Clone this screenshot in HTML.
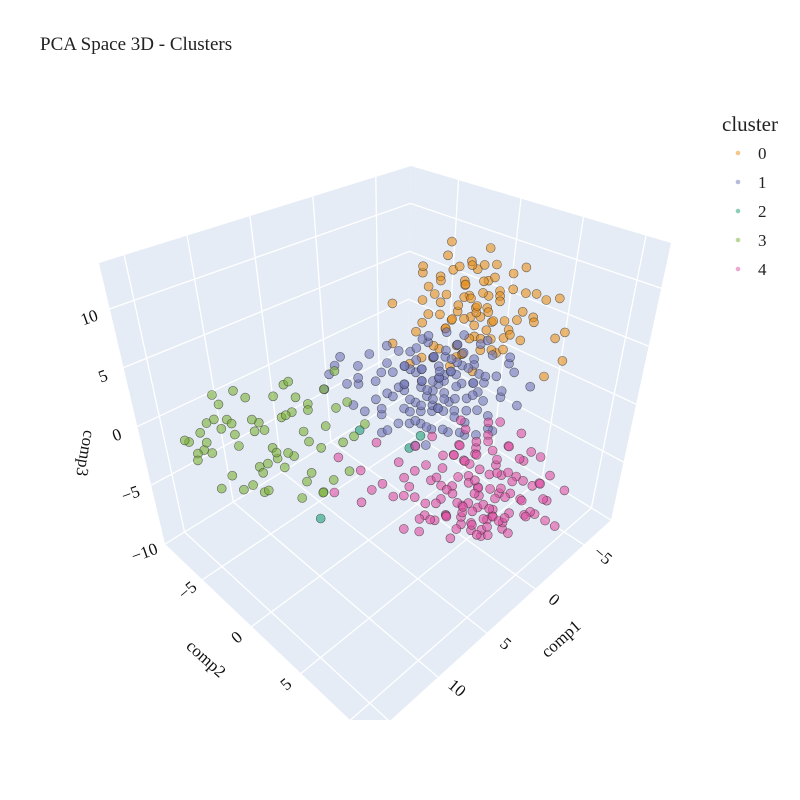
<!DOCTYPE html>
<html><head><meta charset="utf-8"><title>PCA Space 3D - Clusters</title>
<style>
html,body{margin:0;padding:0;background:#fff;}
svg{display:block;font-family:"Liberation Serif","DejaVu Serif",serif;}
</style></head>
<body>
<svg id="chart" width="800" height="800" viewBox="0 0 800 800" xmlns="http://www.w3.org/2000/svg">
<defs><clipPath id="sceneclip"><rect x="0" y="0" width="800" height="720"/></clipPath></defs>
<text x="40" y="50" font-size="19" fill="#222">PCA Space 3D - Clusters</text>
<g id="scene" clip-path="url(#sceneclip)"></g>
<g id="labels"></g>
<g id="legend">
<text x="722" y="131" font-size="21" fill="#222">cluster</text>
</g>
</svg>
<script>
// ---- data ----
const clusterNames = ["0","1","2","3","4"];
const clusterColors = ["#E8901A","#6F75B8","#1B9E77","#7AB036","#DE4FA4"];
const comp1Range = [-7.8, 17];
const comp2Range = [-8.8, 12];
const comp3Range = [-10, 13.9];
const comp1Ticks = [-5, 0, 5, 10, 15];
const comp2Ticks = [-5, 0, 5, 10];
const comp3Ticks = [-10, -5, 0, 5, 10];
const comp1TickLabels = ["−5","0","5","10"];
const comp2TickLabels = ["−5","0","5"];
const comp3TickLabels = ["−10","−5","0","5","10"];

const cluster0 = [[-0.5,3.6,8],[-1.5,0.8,13],[-2,2.5,11],[0,1.5,10.5],[-3,3.5,9],[1,2.5,9.5],[-1,4.5,7],[0.5,3.5,6],[-2.5,5,10],[-1,2,11.5],[2,1.5,7],[-3.5,2,12],[0,4.5,9],[-2,6,8],[1,4,5.5],[-1.5,3,6.5],[-4,4.5,11],[0.5,0.5,11],[-0.5,5.5,6],[2.5,0,9],[-2,4,12],[1.5,2.5,5],[-3,6.5,7.5],[-1,2.5,9],[0,3.5,11],[-2.5,1.5,8],[1,5,7.5],[-1.5,5,5],[-4.5,7,9],[3,0.5,6],[-0.5,1.5,12.5],[-2,3,7],[0.5,5,10],[-3,4.5,6],[1.5,2,8.5],[-1,4,10],[-5,5.5,8],[0,2.5,7.5],[-2,6.5,10.5],[2,3,6.5],[-1,0.5,10],[-3.5,4,10.5],[0.5,2,8],[-1.5,6,7],[1,1,12],[-2.5,3.5,6.5],[-6,6.5,5],[-4,7.5,6],[2.5,1.5,4.5],[0,4.5,4],[-1,3,12],[-3,2.5,9.5],[1,3.5,8.5],[-2,4.5,9],[-5,7.5,3.5],[-4,7,2.5],
[0,3,9],[-1,3.5,8.5],[0.5,2.5,7],[-1.5,4,9.5],[-0.5,4,6.5],[1,3,7.5],[-2,5,7.5],[0,2,9.5],[-1,5,8],[0.5,4,8.5],[-2.5,4,9],[1.5,3,6],[-1.5,2,10],[0,5,7],[-3,5.5,8],[1,2,10],[-0.5,3,10.5],[-2,3.5,8],[0.5,5.5,6.5],[-1,1.5,11],[2,2,8],[-3.5,6,9.5],[0,3.5,5],[-1,6,6],[1,4.5,6],[-2,2,11.5],[-0.5,2.5,8],[-4,5.5,7],[1.5,1.5,9.5],[-1.5,5.5,6.5],[0,4,10],[-2.5,6,6],[2.5,2.5,5.5],[-1,4,11],[-3,3,10],[0.5,1,10],[-0.5,5,9],[-2,4,5.5],[1,3.5,4.5],[-1.5,3.5,12]];
const cluster1 = [[3.3,4.3,4],[2,5,5],[4,3.5,3],[1.5,6,6],[3,4,6.5],[5,3,4.5],[1,6.5,3],[2.5,5.5,2],[6,2,5],[3.5,4.5,7],[4,4,1.5],[2,5,7.5],[4.5,3,6],[3,5,4],[0.5,7,5],[2,6,3.5],[7,1,3],[2.5,5,5.5],[3.5,3.5,8],[4.5,4,2],[5.5,2.5,6.5],[1.5,6,4.5],[3,4.5,2.5],[5,3.5,5],[1,7,7],[8,-0.5,4],[7.5,0,6],[2,5.5,8.5],[4,3,5.5],[3.5,5,3],[0,8,5.5],[1,7,2],[3,4,0.5],[5,2,3.5],[2.5,4.5,6.5],[3,5.5,6],[5.5,2,2],[1.5,5.5,1],[2,5,3],[6,1.5,7],[4,4.5,4.5],[0.5,7.5,3.5],[4,3.5,7.5],[2,6,6],[3,5,1],[4,4,6],[3.5,4,3.5],[8,0,5.5],[0,8.5,3],[2,6.5,4],[5,3,7.5],[2.5,4,4],[4.5,2.5,1],[6.5,1,4.5],[3,4.5,5],[2,5,2],[6,2.5,3],[3.5,3,5],[4,4.5,0],[1,6,5],[0.5,8,7],[4.5,3.5,3.5],[3,5,7.5],[7,0.5,4.5],[2,6,0.5],[4.5,3,4],[5,3.5,6.5],[7,1.5,5.5],[3,4,2],[4,3.5,6.5],[6.5,1,6],[-0.5,9,4.5],
[2.5,4.5,5],[3,4,4.5],[3.5,5,5.5],[2,4,4],[4,5,4],[3,3,3.5],[2.5,5.5,6.5],[1.5,5,5.5],[3.5,4.5,3],[4,4,5],[2,6.5,5],[3,5.5,7],[1,5.5,6],[5,4,3],[4.5,4.5,5.5],[2,4.5,2.5],[3.5,5.5,4],[1,6,3.5],[5,2.5,5.5],[2.5,3.5,6],[4,2.5,4],[3,6,5],[1.5,7,5.5],[0.5,6,4],[3,3.5,7.5],[4.5,3,2.5],[2,3.5,5],[5.5,3,4],[3,5,2.5],[1,8,4.5],[2.5,6.5,3],[4,5.5,6.5],[6,2,3.5],[3.5,2.5,6.5],[2,5.5,4.5],[4,3,1],[1.5,4.5,7],[3,6.5,1.5],[5,1.5,5],[2.5,5,0.5],[0,7.5,6],[6.5,1.5,2.5],[3.5,4,8.5],[1,6.5,8],[4.5,5,2],[2,7,1],[5.5,2,0.5],[3,3,5],[0.5,5.5,7],[7,0,6.5],[2.5,6,7.5],[4,4,3],[1.5,6.5,2.5],[3.5,3.5,2],[5,4.5,0.5],[2,8,2],[6,3,1.5],[4.5,1.5,7],[1,7.5,1],[3,5,9]];
const cluster2 = [[7,1.5,1.2],[4,4,0.5],[4.5,3.5,-0.5],[10,0.5,-5]];
const cluster3 = [[12.3,-1.7,2],[15,-6.2,-0.5],[14.5,-5.5,0.5],[15.5,-5,-1],[14,-6,-1.5],[13.5,-4.5,1],[15,-4,0],[14,-3.5,-2],[13,-5,2.5],[12,-3,1],[13,-2,3],[11.5,-1,-1],[12.5,-0.5,0.5],[11,-2,4],[10.5,0,2],[11,0.5,-1.5],[10,1,1],[9.5,-0.5,3.5],[12,1,-2],[13.5,-1,-2],[11.5,-3.5,-2.5],[14,-2.5,-2.5],[9,1.5,4],[10,2,-1],[8.5,2.5,2],[9,0.5,5],[11,2,-1.5],[12.5,-4,4],[10.5,-1.5,5],[15.5,-3,-2],[13,-6.5,0],[9.5,3,0],[8,3,3],[11,-0.5,6],[14,0,-1],[12,-5,-0.5],[10,-2.5,1.5],[13,0,1.5],[8.5,1,6.5],[11.5,1.5,2.5],
[14.5,-5,0],[13,-4,1.5],[12,-2.5,2],[11,-1,3],[10,0,3.5],[13.5,-3,0.5],[15,-5.5,-1],[12.5,-1.5,-0.5],[11.5,0,0.5],[9.5,1,2.5],[14,-4.5,2],[12,-3.5,3.5],[10.5,-0.5,4.5],[13,-1.5,-1],[15.5,-6,0],[11,1,-0.5],[9,2,1.5],[12.5,-5,1],[10,-1.5,2.5],[14,-1.5,-1.5],[8.5,2,4.5],[13,-5.5,3],[11.5,-2,0],[12,0,1],[10.5,1.5,-2]];
const cluster4 = [[3.5,8,0],[2,9.5,-1],[4.5,7,-2],[1,11,1],[3,9,-3],[5,6.5,-1],[0.5,11,-2],[2,10.5,-3.5],[6,5,-2],[3,8,1.5],[4,9,-4],[2.5,8.5,2],[4,7,0.5],[5,7.5,-3.5],[0,12,-1],[2,10,-4.5],[7,4.5,-2.5],[2.5,7.5,0],[3.5,8.5,-5],[3,10,-2],[6,6,-4],[1.5,9,-3],[3,9.5,-1.5],[5.5,6,0],[1.5,10.5,0.5],[8,2.5,-1],[8.5,3,-3],[1,9,0.5],[4,8,-3],[4,9,-0.5],[1,12.5,-2],[1,11,-4],[3,9,-5],[5,8,-1.5],[2.5,8,-2.5],[3,10,0],[5,6,-1.5],[1.5,8.5,-1],[2.5,9,-4.5],[5.5,6,-4],[6,6.5,-2.5],[0,12,-3],[4,7.5,1.5],[2,9,-4],[3,10.5,-3.5],[4.5,9,-2],[4,7,-2],[9,1.5,0],[0.5,11.5,-4],[2,10,-5],[5,7,1],[2.5,9,1],[4.5,6,-5],[7,5,0.5],[3,7.5,-1.5],[2,10.5,-1],[6,6,-5],[3.5,8.5,-3.5],[4,9.5,-4.5],[1,10.5,-3],[0.5,12.5,-4],[4.5,8,-2.5],[3,9,-5.5],[10,2,-2],[2,9,-4.5],[4.5,6.5,-3],[5,8,-5],[7,5.5,-4.5],[3,7,-0.5],[4,8,0.5],[-0.5,13,-2],[0,13,-4.5],[1.5,12.5,-0.5],
[3,8,1],[2,9,0],[4,7.5,-1],[3.5,9,-2],[2.5,10,-1.5],[4.5,8.5,-3],[1.5,10,-2.5],[3,8.5,-3.5],[5,7,0],[2,8,2.5],[3.5,7,3],[4,9,1.5],[1,10,2],[5.5,7,-2.5],[2.5,9.5,-4],[3,11,-3],[6.5,5,-1],[1.5,9.5,1],[4,8,-4.5],[2,11.5,-2],[3,7,2],[5,8.5,-4],[2,9,3],[6,5.5,1.5],[0.5,10,-0.5],[4.5,9.5,-1],[3,9.5,-4.5],[1,11.5,-3.5],[5,6,2],[4,10,-3],[2.5,8,-1],[3.5,10,-2.5],[7.5,4,-1.5],[6,7,-3.5],[1.5,8,-2],[0,11,0],[3,6.5,0.5],[4.5,7,-4],[2,10,-2.5],[5.5,8,-3],[3.5,8,-1.5],[2.5,11,-4.5],[6,4.5,-3],[8,3.5,-2],[1,12,-1],[4,6,-2.5],[3,9,2],[5,9,-2],[2,7.5,-3],[0.5,9.5,-2],[4.5,7.5,1],[6.5,6,-2],[1.5,11,-1],[3.5,7.5,-4.5],[2,12,-3],[7,3,1],[5.5,5,-1],[4,10.5,-4],[3,8,-5],[2.5,10.5,0]];
const clusters = [cluster0, cluster1, cluster2, cluster3, cluster4];

// ---- projection (box corners on screen) ----
const C = {
  b0:[407,395], l0:[165,544], r0:[611,520], f0:[370,739],
  b1:[411,166], l1:[99,263],  r1:[671,243], f1:[364,386]
};
function lerp(a,b,t){return [a[0]+(b[0]-a[0])*t, a[1]+(b[1]-a[1])*t];}
function projUVW(u,v,w){
  const fl = lerp(lerp(C.b0,C.l0,u), lerp(C.r0,C.f0,u), v);
  const tp = lerp(lerp(C.b1,C.l1,u), lerp(C.r1,C.f1,u), v);
  return lerp(fl,tp,w);
}
function uOf(c1){return (c1-comp1Range[0])/(comp1Range[1]-comp1Range[0]);}
function vOf(c2){return (c2-comp2Range[0])/(comp2Range[1]-comp2Range[0]);}
function wOf(c3){return (c3-comp3Range[0])/(comp3Range[1]-comp3Range[0]);}
function proj(c1,c2,c3){return projUVW(uOf(c1),vOf(c2),wOf(c3));}

const NS="http://www.w3.org/2000/svg";
const scene=document.getElementById('scene');
const labels=document.getElementById('labels');
function poly(pts,name){
  const p=document.createElementNS(NS,'polygon');
  p.setAttribute('points',pts.map(q=>q.join(',')).join(' '));
  p.setAttribute('fill','#e5ecf6');
  
  
  scene.appendChild(p);
}
function line(a,b,name){
  const l=document.createElementNS(NS,'line');
  l.setAttribute('x1',a[0]);l.setAttribute('y1',a[1]);l.setAttribute('x2',b[0]);l.setAttribute('y2',b[1]);
  l.setAttribute('stroke','#ffffff');l.setAttribute('stroke-width','1.3');
  
  
  scene.appendChild(l);
}
poly([C.b0,C.l0,C.l1,C.b1],'wall-comp2-min');
poly([C.b0,C.r0,C.r1,C.b1],'wall-comp1-min');
poly([C.b0,C.l0,C.f0,C.r0],'floor-comp3-min');

comp1Ticks.forEach(t=>{const u=uOf(t);
  line(projUVW(u,0,0),projUVW(u,1,0),'floor-grid-comp1');
  line(projUVW(u,0,0),projUVW(u,0,1),'wall-grid-comp1');});
comp2Ticks.forEach(t=>{const v=vOf(t);
  line(projUVW(0,v,0),projUVW(1,v,0),'floor-grid-comp2');
  line(projUVW(0,v,0),projUVW(0,v,1),'wall-grid-comp2');});
comp3Ticks.forEach(t=>{const w=wOf(t);
  line(projUVW(0,0,w),projUVW(1,0,w),'wall-grid-comp3');
  line(projUVW(0,0,w),projUVW(0,1,w),'wall-grid-comp3');});

// markers sorted back to front
const pts=[];
clusters.forEach((cl,ci)=>cl.forEach(p=>pts.push({ci,p,d:uOf(p[0])+vOf(p[1])+wOf(p[2])})));
pts.sort((a,b)=>a.d-b.d);
pts.forEach(o=>{
  const s=proj(o.p[0],o.p[1],o.p[2]);
  const c=document.createElementNS(NS,'circle');
  c.setAttribute('cx',s[0].toFixed(1));c.setAttribute('cy',s[1].toFixed(1));c.setAttribute('r','4.5');
  c.setAttribute('fill',clusterColors[o.ci]);c.setAttribute('fill-opacity','0.6');
  c.setAttribute('stroke','#333');c.setAttribute('stroke-opacity','0.7');c.setAttribute('stroke-width','0.6');
  
  
  scene.appendChild(c);
});

// tick labels
function txt(x,y,s,rot,size,name){
  const t=document.createElementNS(NS,'text');
  t.setAttribute('x',x);t.setAttribute('y',y);t.setAttribute('font-size',size);
  t.setAttribute('text-anchor','middle');t.setAttribute('dominant-baseline','middle');
  t.setAttribute('fill','#111');
  t.setAttribute('transform','rotate('+rot+' '+x+' '+y+')');
  t.textContent=s;
  
  
  labels.appendChild(t);
}
comp1TickLabels.forEach((s,i)=>{const q=projUVW(uOf(comp1Ticks[i]),1,0);
  txt((q[0]+18).toFixed(1),(q[1]+12).toFixed(1),s,40,17,'comp1-tick-label');});
comp2TickLabels.forEach((s,i)=>{const q=projUVW(1,vOf(comp2Ticks[i]),0);
  txt((q[0]-14).toFixed(1),(q[1]+12).toFixed(1),s,-40,17,'comp2-tick-label');});
comp3TickLabels.forEach((s,i)=>{const q=projUVW(1,0,wOf(comp3Ticks[i]));
  txt((q[0]-20).toFixed(1),(q[1]+10).toFixed(1),s,-20,17,'comp3-tick-label');});
txt(562,640,'comp1',-42,17,'comp1-axis-title');
txt(205,660,'comp2',42,17,'comp2-axis-title');
txt(84,453,'comp3',100,17,'comp3-axis-title');

// legend
const leg=document.getElementById('legend');
clusterNames.forEach((n,i)=>{
  const y=153+i*29;
  const g=document.createElementNS(NS,'g');
  
  
  const c=document.createElementNS(NS,'circle');
  c.setAttribute('cx',738);c.setAttribute('cy',y);c.setAttribute('r',2.3);
  c.setAttribute('fill',clusterColors[i]);c.setAttribute('fill-opacity','0.5');
  g.appendChild(c);
  const t=document.createElementNS(NS,'text');
  t.setAttribute('x',758);t.setAttribute('y',y+6);t.setAttribute('font-size','17');t.setAttribute('fill','#222');
  t.textContent=n;
  g.appendChild(t);
  leg.appendChild(g);
});
</script>
</body></html>
